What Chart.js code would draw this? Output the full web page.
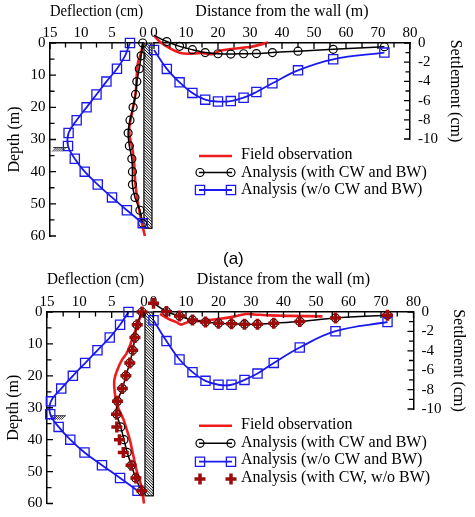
<!DOCTYPE html>
<html>
<head>
<meta charset="utf-8">
<script src="https://cdn.jsdelivr.net/npm/chart.js@4.4.1/dist/chart.umd.min.js"></script>
<style>
  html, body { margin: 0; padding: 0; background: #fff; }
  #wrap { position: relative; width: 475px; height: 517px; overflow: hidden; }
  #wrap canvas { position: absolute; left: 0; top: 0; }
  #tagA { position: absolute; left: 223px; top: 249px; font: 17px 'Liberation Sans', Arial, sans-serif; line-height: 20px; color: #000; }
</style>
</head>
<body>
<div id="wrap">
  <canvas id="aLeft" width="475" height="517"></canvas>
  <canvas id="aRight" width="475" height="517"></canvas>
  <canvas id="bLeft" width="475" height="517"></canvas>
  <canvas id="bRight" width="475" height="517"></canvas>
  <div id="tagA">(a)</div>
</div>
<script>
// ---- data: panel (a) ----
const depthA = [0, 4, 8, 12, 16, 20, 24, 28, 32, 36, 40, 44, 48, 52, 56];
const deflA_wo = [2.1, 2.9, 4.2, 5.9, 7.5, 9.1, 10.7, 12.0, 12.1, 11.0, 9.4, 7.3, 5.0, 2.6, 0.05];
const deflA_with = [0.05, 0.3, 0.6, 1.0, 1.2, 1.6, 2.1, 2.4, 2.2, 1.8, 1.7, 1.7, 1.3, 0.5, 0.05];
const fieldDepthA = [0, 3, 6, 10, 14, 18, 22, 26, 29, 32, 35, 38, 42, 46, 50, 54, 57.5, 60];
const fieldDeflA = [0, 0.3, 0.8, 1.0, 1.1, 1.4, 1.8, 2.2, 2.15, 1.8, 1.55, 1.4, 1.3, 1.1, 0.8, 0.4, 0, -0.3];

const distA = [0, 4, 8, 12, 16, 20, 24, 28, 32, 37, 45, 56, 72];
const settA_with = [0.8, 0.15, -0.35, -0.7, -1.0, -1.12, -1.15, -1.12, -1.1, -1.0, -0.85, -0.66, -0.38];
const settA_wo = [-0.73, -2.7, -4.1, -5.2, -5.9, -6.1, -6.05, -5.7, -5.1, -4.2, -2.85, -1.7, -1.0];
const fieldDistA = [0, 1.9, 5, 8.7, 12.3, 15.4, 18.5, 20.6, 24.8, 29, 31, 35.7];
const fieldSettA = [0.8, 0.1, -0.55, -1.07, -1.1, -1.05, -1.15, -0.8, -0.6, -0.45, -0.35, 0.05];

// ---- data: panel (b) ----
const depthB = [0, 4, 8, 12, 16, 20, 24, 28, 32, 36, 40, 44, 48, 52, 56];
const deflB_wo = [2.4, 3.7, 5.3, 7.2, 9.1, 11.0, 12.8, 14.4, 14.5, 13.2, 11.4, 9.2, 6.5, 3.7, 1.0];
const deflB_with = [0.3, 1.1, 1.4, 1.75, 2.2, 2.8, 3.35, 4.1, 4.2, 3.6, 3.1, 2.6, 1.95, 1.3, 0.4];
const deflB_cw = [0.3, 1.05, 1.4, 1.75, 2.2, 2.8, 3.35, 4.1, 4.25, 4.2, 3.8, 3.2, 2.0, 1.25, 0.35];
const fieldDepthB = [0, 4.5, 9, 13, 15, 18, 21.5, 25.5, 28, 30.5, 33.5, 36, 40, 45, 50, 55, 60];
const fieldDeflB = [0.3, 1.1, 1.9, 2.7, 3.4, 4.1, 4.6, 4.5, 4.3, 3.9, 3.2, 2.8, 2.2, 1.65, 1.1, 0.35, 0];

const distB = [0, 4, 8, 12, 16, 20, 24, 28, 32, 37, 45, 56, 72];
const settB_with = [0.9, 0.05, -0.42, -0.82, -1.03, -1.17, -1.22, -1.25, -1.25, -1.15, -0.97, -0.62, -0.34];
const settB_cw = [0.9, 0.05, -0.42, -0.82, -1.03, -1.17, -1.22, -1.25, -1.25, -1.15, -0.97, -0.62, -0.34];
const settB_wo = [-0.85, -3.0, -4.9, -6.2, -7.1, -7.5, -7.5, -7.0, -6.35, -5.25, -3.66, -1.98, -1.03];
const fieldDistB = [2, 4.6, 7, 8.5, 10.5, 15, 20.5, 25, 28.5, 31, 36, 42, 52];
const fieldSettB = [-0.2, -0.7, -1.05, -1.3, -1.05, -0.9, -0.7, -0.45, -0.2, -0.25, -0.35, -0.4, -0.45];

// wall and excavation level (m / cm)
const wallFace = -0.15, wallBack = -1.45, wallToe = 57.6;
const excavDepth = 32.5;

const LBL_FIELD = 'Field observation';
const LBL_WITH = 'Analysis (with CW and BW)';
const LBL_WO = 'Analysis (w/o CW and BW)';
const LBL_CW = 'Analysis (with CW, w/o BW)';

Chart.defaults.font.family = "'Liberation Serif', 'Times New Roman', serif";
Chart.defaults.color = '#000';

const fieldStyle = { borderColor: '#ee1c1c', borderWidth: 2.6, pointRadius: 0, tension: 0.35, showLine: true, order: 3, clip: false };
const withStyle = { borderColor: '#000', borderWidth: 1.5, pointStyle: 'circle', pointRadius: 4, pointBorderWidth: 1.2,
    pointBorderColor: '#000', pointBackgroundColor: 'rgba(0,0,0,0)', tension: 0.3, showLine: true, order: 2, clip: false };
const woStyle = { borderColor: '#1a1aee', borderWidth: 1.8, pointStyle: 'rect', pointRadius: 6.5, pointBorderWidth: 1.3,
    pointBorderColor: '#1a1aee', pointBackgroundColor: 'rgba(0,0,0,0)', tension: 0.4, showLine: true, order: 1, clip: false };
const cwStyle = { borderColor: '#9e0b0b', pointStyle: 'cross', pointRadius: 5.5, pointBorderWidth: 3.5,
    pointBorderColor: '#9e0b0b', showLine: false, order: 0, clip: false };

function pts(xs, ys) { return xs.map((v, i) => ({ x: v, y: ys[i] })); }

function tickList(min, max, step) {
    const out = [];
    for (let v = min; v <= max + 1e-9; v += step) out.push({ value: Math.round(v * 100) / 100 });
    return out;
}

function axis(pos, min, max, step, every, title, size, tickPad, extra) {
    return Object.assign({
        type: 'linear', position: pos, min: min, max: max,
        grid: { drawOnChartArea: false, drawTicks: false },
        border: { display: true, color: '#000', width: 1.5 },
        ticks: {
            autoSkip: false, maxRotation: 0, padding: tickPad, font: { size: 15 }, color: '#000',
            callback: v => (Math.abs(v % every) < 1e-6 ? String(v) : '')
        },
        title: { display: true, text: title, font: { size: 16 }, color: '#000', padding: 0 },
        afterBuildTicks: s => { s.ticks = tickList(min, max, step); },
        afterFit: s => { if (s.isHorizontal()) s.height = size; else s.width = size; }
    }, extra || {});
}

// ticks drawn inward from the axis lines
const inwardTicks = {
    id: 'inwardTicks',
    afterDraw(chart) {
        const { ctx, chartArea: a } = chart;
        ctx.save();
        ctx.strokeStyle = '#000';
        ctx.lineWidth = 1.3;
        ctx.beginPath();
        Object.values(chart.scales).forEach(s => {
            s.ticks.forEach(t => {
                const p = s.getPixelForValue(t.value);
                const len = t.label !== '' ? 6 : 4.5;
                if (s.position === 'top') { ctx.moveTo(p, a.top); ctx.lineTo(p, a.top + len); }
                else if (s.position === 'left') { ctx.moveTo(a.left, p); ctx.lineTo(a.left + len, p); }
                else if (s.position === 'right') { ctx.moveTo(a.right, p); ctx.lineTo(a.right - len, p); }
            });
        });
        ctx.stroke();
        ctx.restore();
    }
};

// hatched wall + excavation level mark, drawn in deflection/depth scale
const wallPlugin = {
    id: 'wall',
    beforeDatasetsDraw(chart) {
        const { ctx } = chart;
        const xs = chart.scales.x, ys = chart.scales.y;
        const x0 = xs.getPixelForValue(wallFace), x1 = xs.getPixelForValue(wallBack);
        const y0 = ys.getPixelForValue(0), y1 = ys.getPixelForValue(wallToe);
        const w = x1 - x0;
        ctx.save();
        ctx.fillStyle = '#fff';
        ctx.fillRect(x0, y0, w, y1 - y0);
        ctx.beginPath();
        ctx.rect(x0, y0, w, y1 - y0);
        ctx.clip();
        ctx.strokeStyle = '#000';
        ctx.lineWidth = 1;
        ctx.beginPath();
        for (let yy = y0 - w; yy < y1 + w; yy += 2.8) {
            ctx.moveTo(x0, yy);
            ctx.lineTo(x1, yy + w);
        }
        ctx.stroke();
        ctx.restore();
        ctx.save();
        ctx.strokeStyle = '#000';
        ctx.lineWidth = 1.2;
        ctx.strokeRect(x0, y0, w, y1 - y0);

        // excavation level
        const gy = ys.getPixelForValue(excavDepth);
        const gx0 = xs.getPixelForValue(14.5), gx1 = xs.getPixelForValue(12.1);
        ctx.strokeStyle = '#333';
        ctx.lineWidth = 1;
        ctx.beginPath();
        ctx.moveTo(gx0, gy);
        ctx.lineTo(gx1, gy);
        for (let gx = gx0 + 3; gx <= gx1; gx += 2) {
            ctx.moveTo(gx - 4, gy + 4);
            ctx.lineTo(gx, gy);
        }
        ctx.stroke();
        ctx.restore();
    }
};

// legend drawn inside the settlement plot
const rowLegend = {
    id: 'rowLegend',
    afterDraw(chart, args, opts) {
        if (!opts || !opts.rows) return;
        const ctx = chart.ctx;
        ctx.save();
        opts.rows.forEach(r => {
            const ds = chart.data.datasets.find(d => d.label === r.label);
            if (ds.showLine !== false) {
                ctx.strokeStyle = ds.borderColor;
                ctx.lineWidth = ds.borderWidth;
                ctx.beginPath();
                ctx.moveTo(opts.x1, r.y);
                ctx.lineTo(opts.x2, r.y);
                ctx.stroke();
            }
            if (ds.pointRadius > 0) {
                ctx.strokeStyle = ds.pointBorderColor;
                ctx.fillStyle = 'rgba(0,0,0,0)';
                ctx.lineWidth = ds.pointBorderWidth;
                [opts.x1 + 1, opts.x2 - 1].forEach(px => {
                    Chart.helpers.drawPoint(ctx, { pointStyle: ds.pointStyle, radius: ds.pointRadius, rotation: 0, borderWidth: ds.pointBorderWidth }, px, r.y);
                });
            }
            ctx.fillStyle = '#000';
            ctx.font = "16px 'Liberation Serif', 'Times New Roman', serif";
            ctx.textBaseline = 'middle';
            ctx.textAlign = 'left';
            ctx.fillText(ds.label, opts.tx, r.ty);
        });
        ctx.restore();
    }
};

function makeChart(id, datasets, scales, padding, plugins, pluginOpts) {
    return new Chart(document.getElementById(id), {
        type: 'scatter',
        data: { datasets: datasets },
        options: {
            responsive: false,
            animation: false,
            events: [],
            layout: { padding: padding },
            plugins: Object.assign({ legend: { display: false }, tooltip: { enabled: false } }, pluginOpts || {}),
            scales: scales
        },
        plugins: plugins
    });
}

// ---- panel (a) ----
makeChart('aLeft', [
    Object.assign({ label: LBL_WITH, data: pts(deflA_with, depthA) }, withStyle),
    Object.assign({ label: LBL_WO, data: pts(deflA_wo, depthA) }, woStyle),
    Object.assign({ label: LBL_FIELD, data: pts(fieldDeflA, fieldDepthA) }, fieldStyle)
], {
    x: axis('top', 0, 15, 2.5, 5, 'Deflection (cm)', 40.6, 1, { reverse: true }),
    y: axis('left', 0, 60, 5, 10, 'Depth (m)', 44.6, 4.5, { reverse: true })
}, { left: 5.4, top: 2.4, right: 332, bottom: 281 }, [wallPlugin, inwardTicks]);

makeChart('aRight', [
    Object.assign({ label: LBL_WITH, data: pts(distA, settA_with) }, withStyle),
    Object.assign({ label: LBL_WO, data: pts(distA, settA_wo) }, woStyle),
    Object.assign({ label: LBL_FIELD, data: pts(fieldDistA, fieldSettA) }, fieldStyle)
], {
    x: axis('top', 0, 80, 5, 10, 'Distance from the wall (m)', 40.6, 1),
    y: axis('right', -10, 0, 1, 2, 'Settlement (cm)', 54.6, 8, {}),
}, { left: 154, top: 2.4, right: 10.4, bottom: 378 }, [inwardTicks, rowLegend], {
    rowLegend: { x1: 199, x2: 232, tx: 241, rows: [
        { label: LBL_FIELD, y: 156, ty: 155 },
        { label: LBL_WITH, y: 172.5, ty: 172.5 },
        { label: LBL_WO, y: 190, ty: 189.5 }
    ] }
});

// ---- panel (b) ----
makeChart('bLeft', [
    Object.assign({ label: LBL_CW, data: pts(deflB_cw, depthB) }, cwStyle),
    Object.assign({ label: LBL_WITH, data: pts(deflB_with, depthB) }, withStyle),
    Object.assign({ label: LBL_WO, data: pts(deflB_wo, depthB) }, woStyle),
    Object.assign({ label: LBL_FIELD, data: pts(fieldDeflB, fieldDepthB) }, fieldStyle)
], {
    x: axis('top', 0, 15, 2.5, 5, 'Deflection (cm)', 42.1, 1, { reverse: true }),
    y: axis('left', 0, 60, 5, 10, 'Depth (m)', 43.3, 4.5, { reverse: true })
}, { left: 3.7, top: 269.9, right: 331, bottom: 10 }, [wallPlugin, inwardTicks]);

makeChart('bRight', [
    Object.assign({ label: LBL_CW, data: pts(distB, settB_cw) }, cwStyle),
    Object.assign({ label: LBL_WITH, data: pts(distB, settB_with) }, withStyle),
    Object.assign({ label: LBL_WO, data: pts(distB, settB_wo) }, woStyle),
    Object.assign({ label: LBL_FIELD, data: pts(fieldDistB, fieldSettB) }, fieldStyle)
], {
    x: axis('top', 0, 80, 5, 10, 'Distance from the wall (m)', 42.1, 1),
    y: axis('right', -10, 0, 1, 2, 'Settlement (cm)', 54.6, 8, {})
}, { left: 153.5, top: 269.9, right: 6.9, bottom: 108 }, [inwardTicks, rowLegend], {
    rowLegend: { x1: 199, x2: 232, tx: 241, rows: [
        { label: LBL_FIELD, y: 425.7, ty: 424.5 },
        { label: LBL_WITH, y: 443.3, ty: 442.5 },
        { label: LBL_WO, y: 461.7, ty: 460 },
        { label: LBL_CW, y: 479, ty: 477.5 }
    ] }
});
</script>
</body>
</html>
